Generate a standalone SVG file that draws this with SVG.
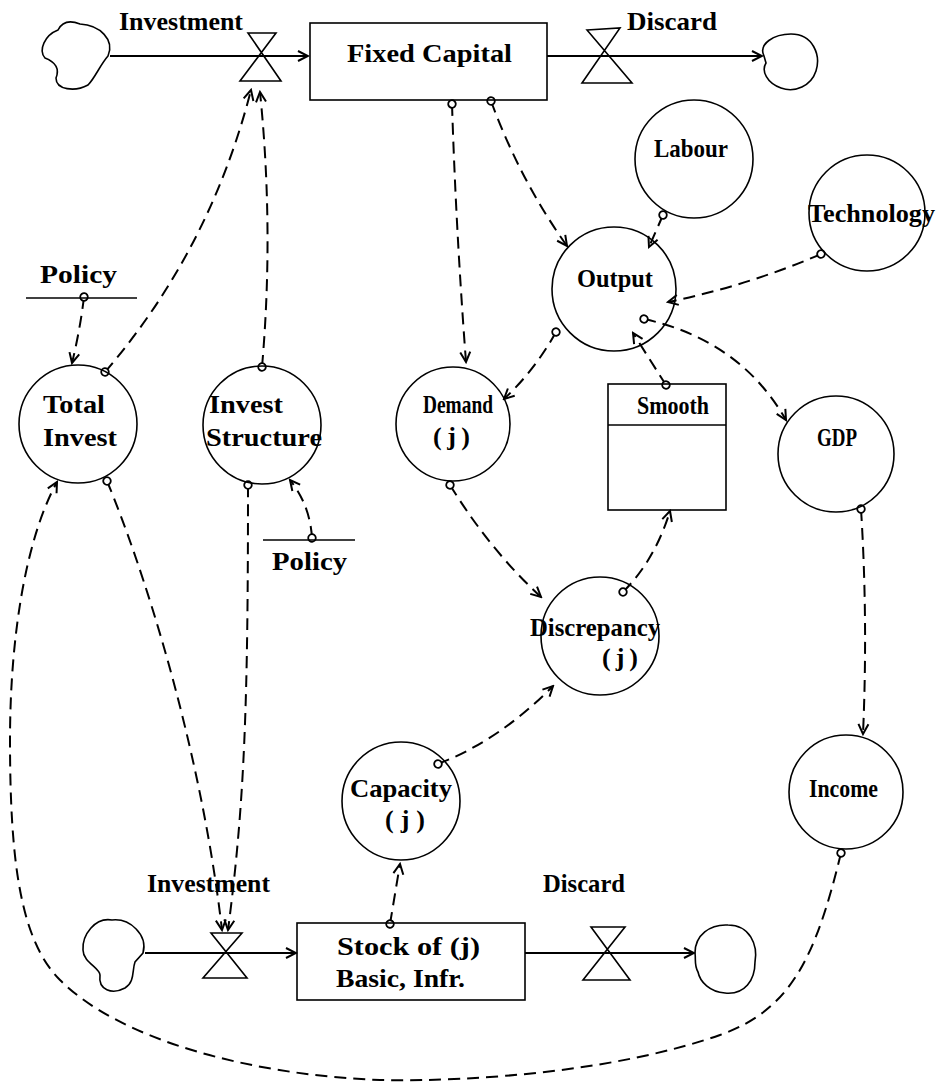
<svg xmlns="http://www.w3.org/2000/svg" width="937" height="1085" viewBox="0 0 937 1085">
<style>
.n{fill:none;stroke:#000;stroke-width:1.6}
.t{font-family:"Liberation Serif","DejaVu Serif",serif;font-weight:bold;font-size:26px;fill:#000}
.d{fill:none;stroke:#000;stroke-width:2;stroke-dasharray:12 7;marker-start:url(#o);marker-end:url(#a)}
.f{fill:none;stroke:#000;stroke-width:1.8;marker-end:url(#a)}
</style>
<defs>
<marker id="a" markerUnits="userSpaceOnUse" viewBox="-12 -7 14 14" markerWidth="14" markerHeight="14" refX="0" refY="0" orient="auto">
<path d="M-10,-5 L0,0 L-10,5" fill="none" stroke="#000" stroke-width="2"/>
</marker>
<marker id="o" markerUnits="userSpaceOnUse" viewBox="-6 -6 12 12" markerWidth="12" markerHeight="12" refX="0" refY="0" orient="auto">
<circle r="3.8" fill="#fff" stroke="#000" stroke-width="1.8"/>
</marker>
</defs>
<rect width="937" height="1085" fill="#fff"/>

<g id="connectors">
<path class="f" d="M110,56 L308,56"/>
<path class="f" d="M547,56 L762,56"/>
<path class="f" d="M145,953 L296,953"/>
<path class="f" d="M525,953 L694,953"/>
<path class="d" d="M452,104 Q456,230 466,362"/>
<path class="d" d="M491,101 Q520,180 567,246"/>
<path class="d" d="M663,215 L649,247"/>
<path class="d" d="M821,254 Q750,285 668,302"/>
<path class="d" d="M556,332 Q535,370 504,399"/>
<path class="d" d="M644,319 Q740,340 786,420"/>
<path class="d" d="M666,385 Q650,360 633,333"/>
<path class="d" d="M450,485 Q490,550 541,597"/>
<path class="d" d="M623,592 Q655,560 670,511"/>
<path class="d" d="M438,764 Q500,740 553,686"/>
<path class="d" d="M390,924 L400,864"/>
<path class="d" d="M861,509 Q868,620 863,734"/>
<path class="d" d="M841,853 C815,960 790,1010 720,1035 C620,1070 480,1082 380,1080 C250,1075 120,1040 60,980 C20,940 10,860 10,740 C10,640 25,540 57,482"/>
<path class="d" d="M84,297 Q80,330 72,363"/>
<path class="d" d="M105,372 Q210,250 251,90"/>
<path class="d" d="M262,367 Q274,230 260,92"/>
<path class="d" d="M107,481 C140,560 200,740 222,930"/>
<path class="d" d="M248,485 C248,700 245,800 228,930"/>
<path class="d" d="M312,538 Q310,505 290,480"/>
</g>

<g id="cloud-top-left"><path class="n" d="M108,56 C115,40 100,25 80,24 C70,20 62,22 58,30 C45,35 38,50 45,58 C55,62 60,68 56,78 C56,90 75,92 88,85 C95,78 100,65 108,56 Z"/></g>
<g id="valve-top-investment">
<path class="n" d="M248,33 L276,33 L240,81 L281,81 Z"/>
<text class="t" x="119" y="30" textLength="124" lengthAdjust="spacingAndGlyphs">Investment</text>
</g>
<g id="fixed-capital">
<rect class="n" x="310" y="23" width="237" height="77"/>
<text class="t" x="347" y="62" textLength="165" lengthAdjust="spacingAndGlyphs">Fixed Capital</text>
</g>
<g id="valve-top-discard">
<path class="n" d="M587,30 L620,28 L582,83 L632,83 Z"/>
<text class="t" x="627" y="30" textLength="90" lengthAdjust="spacingAndGlyphs">Discard</text>
</g>
<g id="cloud-top-right"><path class="n" d="M764,56 C758,44 774,34 791,34 C813,34 821,55 816,71 C811,86 795,93 781,88 C767,83 761,71 766,63 Z"/></g>

<g id="labour"><circle class="n" cx="694" cy="159" r="59"/><text class="t" x="654" y="157" textLength="74" lengthAdjust="spacingAndGlyphs">Labour</text></g>
<g id="technology"><circle class="n" cx="867" cy="213" r="58"/><text class="t" x="808" y="222" textLength="127" lengthAdjust="spacingAndGlyphs">Technology</text></g>
<g id="output"><circle class="n" cx="614" cy="289" r="62"/><text class="t" x="577" y="287" textLength="76" lengthAdjust="spacingAndGlyphs">Output</text></g>

<g id="policy-top">
<line class="n" x1="26" y1="298" x2="137" y2="298"/>
<text class="t" x="40" y="283" textLength="77" lengthAdjust="spacingAndGlyphs">Policy</text>
</g>
<g id="total-invest"><circle class="n" cx="78" cy="424" r="59"/>
<text class="t" x="43" y="413" textLength="62" lengthAdjust="spacingAndGlyphs">Total</text>
<text class="t" x="43" y="446" textLength="74" lengthAdjust="spacingAndGlyphs">Invest</text></g>
<g id="invest-structure"><circle class="n" cx="262" cy="425" r="59"/>
<text class="t" x="209" y="413" textLength="74" lengthAdjust="spacingAndGlyphs">Invest</text>
<text class="t" x="206" y="446" textLength="116" lengthAdjust="spacingAndGlyphs">Structure</text></g>
<g id="policy-bottom">
<line class="n" x1="263" y1="540" x2="355" y2="540"/>
<text class="t" x="272" y="570" textLength="75" lengthAdjust="spacingAndGlyphs">Policy</text>
</g>

<g id="demand"><circle class="n" cx="453" cy="424" r="57"/>
<text class="t" x="423" y="413" textLength="70" lengthAdjust="spacingAndGlyphs">Demand</text>
<text class="t" x="433" y="445" textLength="37">(j)</text></g>
<g id="smooth">
<rect class="n" x="608" y="384" width="118" height="126"/>
<line class="n" x1="608" y1="425" x2="726" y2="425"/>
<text class="t" x="637" y="414" textLength="72" lengthAdjust="spacingAndGlyphs">Smooth</text>
</g>
<g id="gdp"><circle class="n" cx="836" cy="454" r="58"/><text class="t" x="817" y="446" textLength="40" lengthAdjust="spacingAndGlyphs">GDP</text></g>
<g id="discrepancy"><circle class="n" cx="600" cy="636" r="59"/>
<text class="t" x="530" y="636" textLength="130" lengthAdjust="spacingAndGlyphs">Discrepancy</text>
<text class="t" x="602" y="666" textLength="36">(j)</text></g>
<g id="capacity"><circle class="n" cx="401" cy="801" r="59"/>
<text class="t" x="350" y="797" textLength="102" lengthAdjust="spacingAndGlyphs">Capacity</text>
<text class="t" x="385" y="828" textLength="40">(j)</text></g>
<g id="income"><circle class="n" cx="846" cy="792" r="57"/><text class="t" x="809" y="797" textLength="69" lengthAdjust="spacingAndGlyphs">Income</text></g>

<g id="cloud-bottom-left"><path class="n" d="M143,953 C148,935 130,918 112,920 C95,917 82,935 83,950 C83,962 100,968 100,975 C98,990 112,995 125,988 C135,982 132,970 135,962 Z"/></g>
<g id="valve-bottom-investment">
<path class="n" d="M211,933 L242,933 L203,978 L247,978 Z"/>
<text class="t" x="147" y="892" textLength="123" lengthAdjust="spacingAndGlyphs">Investment</text>
</g>
<g id="stock">
<rect class="n" x="297" y="923" width="228" height="77"/>
<text class="t" x="337" y="955" textLength="143" lengthAdjust="spacingAndGlyphs">Stock of (j)</text>
<text class="t" x="336" y="987" textLength="129" lengthAdjust="spacingAndGlyphs">Basic, Infr.</text>
</g>
<g id="valve-bottom-discard">
<path class="n" d="M591,927 L625,927 L583,980 L630,980 Z"/>
<text class="t" x="543" y="892" textLength="82" lengthAdjust="spacingAndGlyphs">Discard</text>
</g>
<g id="cloud-bottom-right"><path class="n" d="M695,953 C695,935 710,924 728,925 C750,925 758,945 755,962 C755,980 745,995 725,993 C710,992 700,982 698,972 C694,965 696,960 695,953 Z"/></g>
</svg>
